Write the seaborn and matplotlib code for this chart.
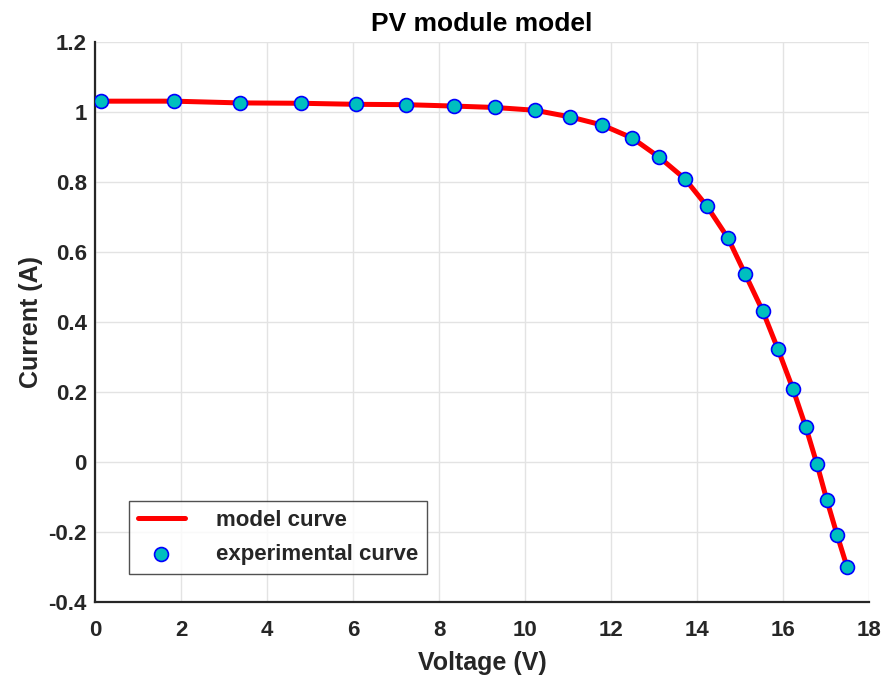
import matplotlib
matplotlib.use("Agg")
import matplotlib.pyplot as plt
import seaborn as sns
import pandas as pd

voltage = [0.14, 1.84, 3.37, 4.79, 6.07, 7.23, 8.35, 9.30, 10.23, 11.05, 11.79, 12.49,
           13.12, 13.72, 14.23, 14.72, 15.12, 15.53, 15.88, 16.23, 16.53, 16.79, 17.02,
           17.26, 17.49]
current = [1.031, 1.031, 1.026, 1.025, 1.022, 1.021, 1.017, 1.013, 1.005, 0.986, 0.963,
           0.926, 0.871, 0.809, 0.731, 0.640, 0.537, 0.431, 0.323, 0.209, 0.100, -0.006,
           -0.109, -0.209, -0.300]
xticks = [0, 2, 4, 6, 8, 10, 12, 14, 16, 18]
yticks = [-0.4, -0.2, 0, 0.2, 0.4, 0.6, 0.8, 1, 1.2]
ytick_labels = ["-0.4", "-0.2", "0", "0.2", "0.4", "0.6", "0.8", "1", "1.2"]

df = pd.DataFrame({"V": voltage, "I": current})

sns.set_theme(style="white")
plt.rcParams['font.family'] = ['Liberation Sans', 'DejaVu Sans']
plt.rcParams['font.weight'] = 'bold'

fig = plt.figure(figsize=(8.89, 6.81), dpi=100)
ax = fig.add_axes([0.1069, 0.116, 0.8706, 0.8223])

sns.lineplot(data=df, x="V", y="I", ax=ax, color="#ff0000", linewidth=3.6,
             label="model curve", sort=True, zorder=2)
sns.scatterplot(data=df, x="V", y="I", ax=ax, color="#00bfbf", edgecolor="#0000ff",
                linewidth=1.2, s=100, label="experimental curve", zorder=3)

ax.set_xlim(0, 18)
ax.set_ylim(-0.4, 1.2)
ax.set_xticks(xticks)
ax.set_xticklabels([str(t) for t in xticks])
ax.set_yticks(yticks)
ax.set_yticklabels(ytick_labels)
ax.grid(True, color="#e3e3e3", linewidth=1.0)
ax.set_axisbelow(True)
for s in ["top", "right"]:
    ax.spines[s].set_visible(False)
for s in ["left", "bottom"]:
    ax.spines[s].set_color("#262626")
    ax.spines[s].set_linewidth(1.6)
ax.tick_params(axis="both", direction="in", length=6, width=1.2, color="#262626",
               labelsize=16, labelcolor="#262626")
ax.tick_params(axis="x", pad=13)
ax.tick_params(axis="y", pad=6)
for lab in ax.get_xticklabels() + ax.get_yticklabels():
    lab.set_fontweight("bold")

ax.set_xlabel("Voltage (V)", fontsize=18, fontweight="bold", color="#262626", labelpad=7)
ax.set_ylabel("Current (A)", fontsize=18, fontweight="bold", color="#262626", labelpad=4)
ax.set_title("PV module model", fontsize=19, fontweight="bold", color="#000000", pad=8)

leg = ax.legend(loc="lower left", bbox_to_anchor=(0.044, 0.05), fontsize=16,
                frameon=True, fancybox=False, edgecolor="#262626", borderpad=0.4,
                handlelength=2.1, labelspacing=0.6, handletextpad=1.4, borderaxespad=0)
leg.get_frame().set_linewidth(1.0)
for t in leg.get_texts():
    t.set_fontweight("bold")

fig.savefig("out.png", dpi=100)
